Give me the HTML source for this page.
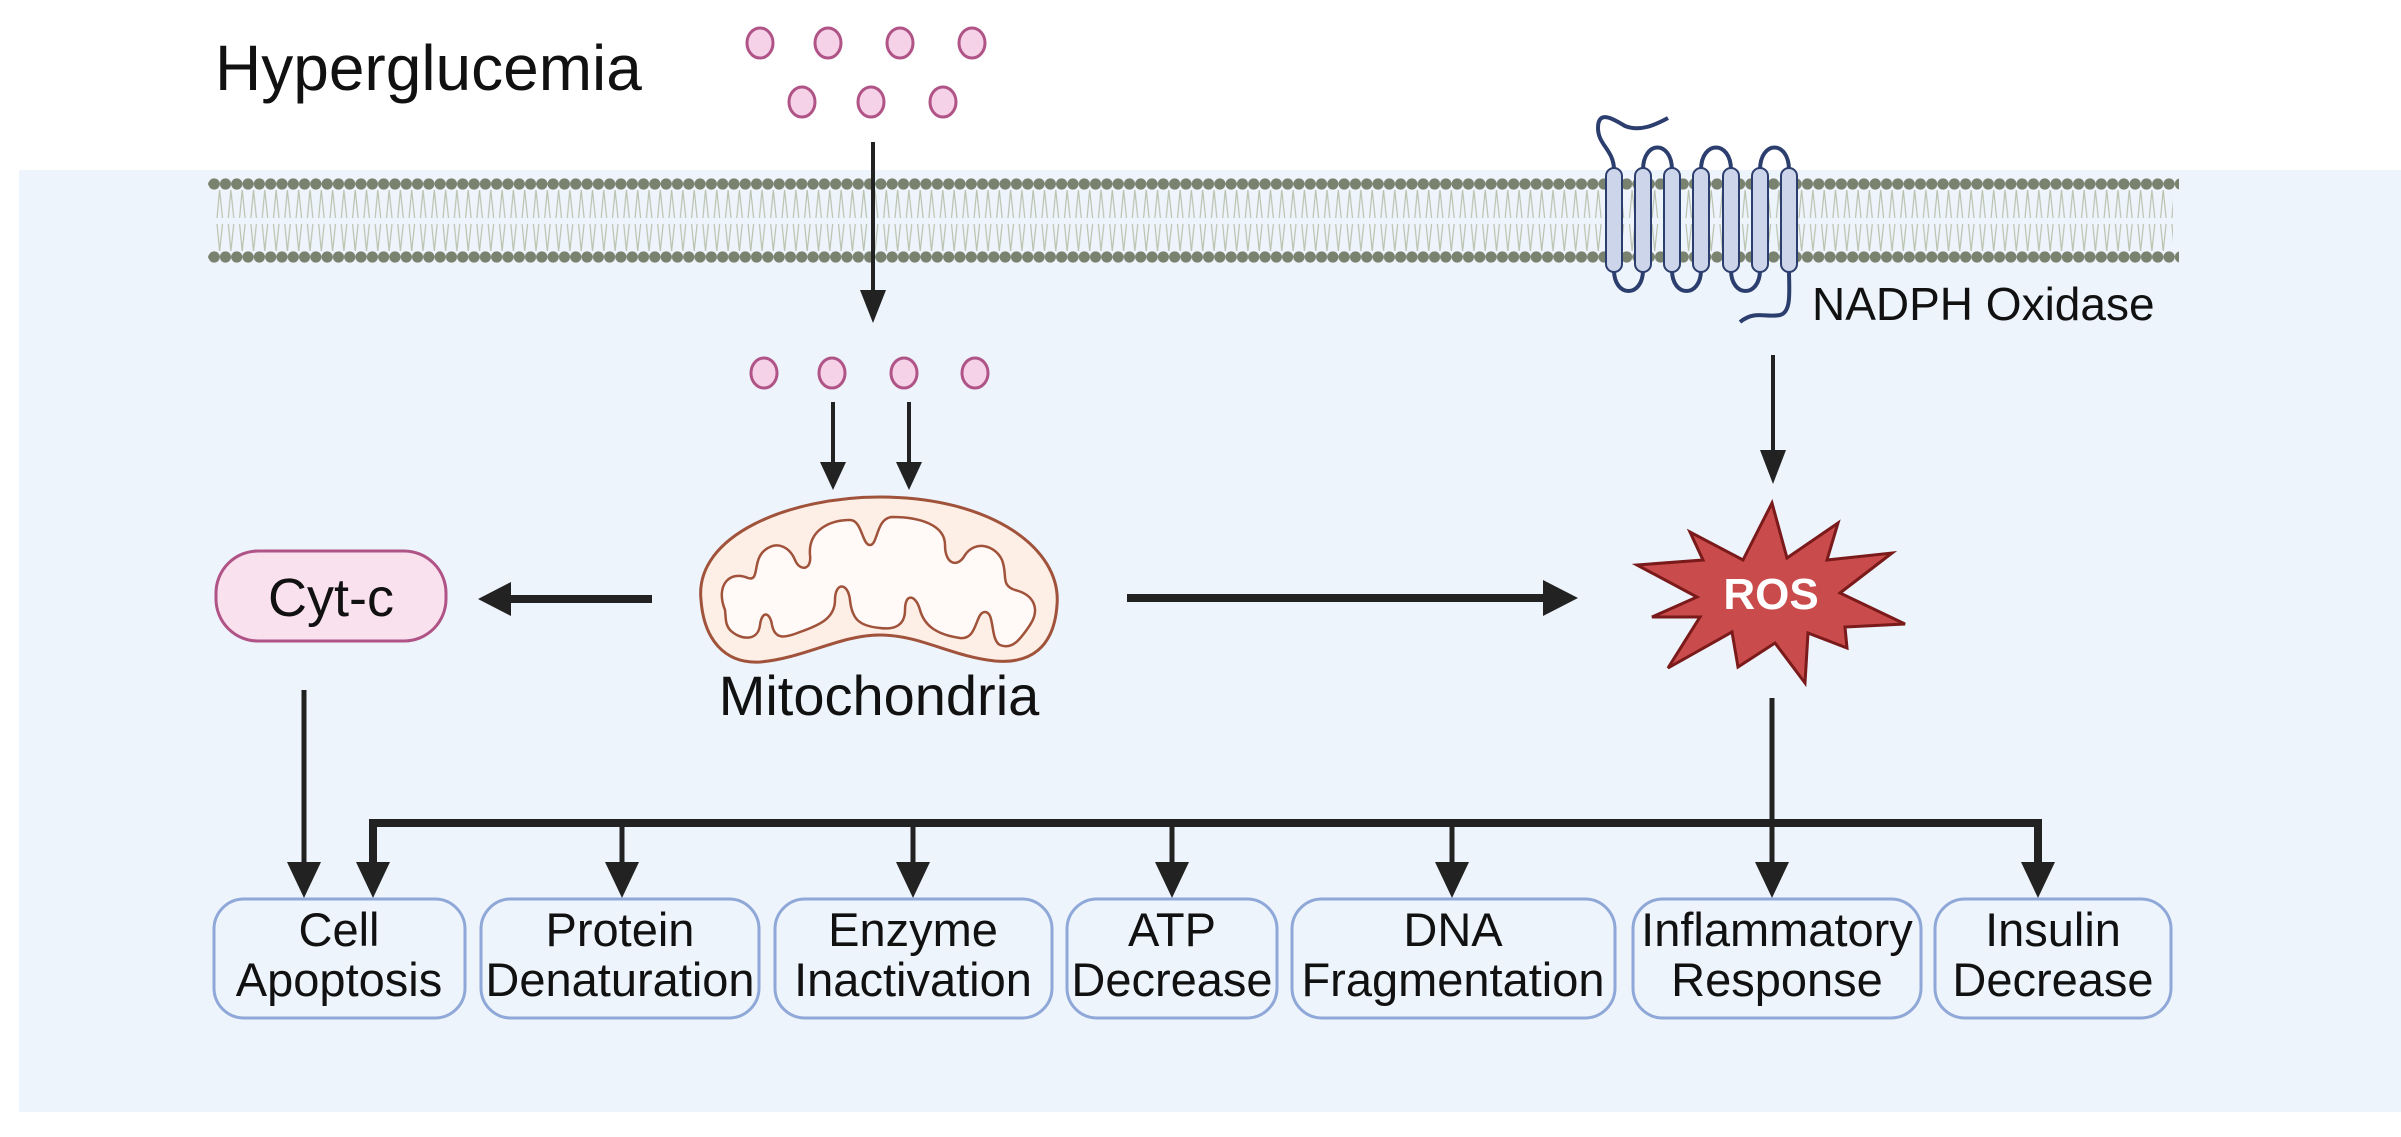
<!DOCTYPE html>
<html><head><meta charset="utf-8"><style>
html,body{margin:0;padding:0;background:#fff;}
svg{display:block;}
text{font-family:"Liberation Sans",Arial,sans-serif;}
</style></head><body>
<svg width="2401" height="1137" viewBox="0 0 2401 1137" xmlns="http://www.w3.org/2000/svg">
<defs>
<pattern id="tails" x="214" y="0" width="11.3" height="1137" patternUnits="userSpaceOnUse">
<path d="M5.6 190 L3 218 M5.6 190 L8.5 218 M3 224 L5.6 251 M8.5 224 L5.6 251" stroke="#b9c2ad" stroke-width="1.2" fill="none"/>
</pattern>
<pattern id="heads" x="208.5" y="0" width="11.3" height="1137" patternUnits="userSpaceOnUse">
<circle cx="5.65" cy="184" r="5.6" fill="#78826e"/>
<circle cx="5.65" cy="257" r="5.6" fill="#78826e"/>
</pattern>
</defs>
<rect x="19" y="170" width="2382" height="942" fill="#edf4fc"/>
<!-- membrane -->
<rect x="214" y="186" width="1959" height="68" fill="url(#tails)"/>
<rect x="208" y="176" width="1971" height="88" fill="url(#heads)"/>

<text x="215" y="90" font-size="64" fill="#111">Hyperglucemia</text>
<g fill="#f6d2e8" stroke="#b05386" stroke-width="3">
<ellipse cx="760" cy="43" rx="13" ry="15"/><ellipse cx="828" cy="43" rx="13" ry="15"/><ellipse cx="900" cy="43" rx="13" ry="15"/><ellipse cx="972" cy="43" rx="13" ry="15"/>
<ellipse cx="802" cy="102" rx="13" ry="15"/><ellipse cx="871" cy="102" rx="13" ry="15"/><ellipse cx="943" cy="102" rx="13" ry="15"/>
<ellipse cx="764" cy="373" rx="13" ry="15"/><ellipse cx="832" cy="373" rx="13" ry="15"/><ellipse cx="904" cy="373" rx="13" ry="15"/><ellipse cx="975" cy="373" rx="13" ry="15"/>
</g>

<!-- protein -->
<g fill="none" stroke="#2c3e6e" stroke-width="4">
<path d="M1614 170 C1614 150 1598 145 1598 128 C1598 110 1612 118 1625 126 C1640 132 1655 125 1668 118"/>
<path d="M1643 170 C1643 140 1672 140 1672 170"/>
<path d="M1701 170 C1701 140 1731 140 1731 170"/>
<path d="M1760 170 C1760 140 1789 140 1789 170"/>
<path d="M1614 270 C1614 298 1643 298 1643 270"/>
<path d="M1672 270 C1672 298 1701 298 1701 270"/>
<path d="M1731 270 C1731 298 1760 298 1760 270"/>
<path d="M1789 270 C1789 290 1792 312 1780 315 C1765 318 1755 310 1740 322"/>
</g>
<g fill="#cdd5ea" stroke="#2c3e6e" stroke-width="2">
<rect x="1606" y="168" width="16" height="104" rx="8"/><rect x="1635" y="168" width="16" height="104" rx="8"/><rect x="1664" y="168" width="16" height="104" rx="8"/><rect x="1693" y="168" width="16" height="104" rx="8"/><rect x="1723" y="168" width="16" height="104" rx="8"/><rect x="1752" y="168" width="16" height="104" rx="8"/><rect x="1781" y="168" width="16" height="104" rx="8"/>
</g>
<text x="1812" y="320" font-size="46" fill="#111">NADPH Oxidase</text>

<!-- arrows -->
<g stroke="#222" fill="none">
<line x1="873" y1="142" x2="873" y2="295" stroke-width="4"/>
<line x1="833" y1="402" x2="833" y2="465" stroke-width="4"/>
<line x1="909" y1="402" x2="909" y2="465" stroke-width="4"/>
<line x1="1773" y1="355" x2="1773" y2="455" stroke-width="4"/>
<line x1="652" y1="599" x2="505" y2="599" stroke-width="8"/>
<line x1="1127" y1="598" x2="1550" y2="598" stroke-width="8"/>
<line x1="304" y1="690" x2="304" y2="870" stroke-width="5"/>
<line x1="1772" y1="698" x2="1772" y2="870" stroke-width="5"/>
<polyline points="373,870 373,823 2038,823 2038,870" stroke-width="8"/>
<line x1="622" y1="823" x2="622" y2="870" stroke-width="5"/>
<line x1="913" y1="823" x2="913" y2="870" stroke-width="5"/>
<line x1="1172" y1="823" x2="1172" y2="870" stroke-width="5"/>
<line x1="1452" y1="823" x2="1452" y2="870" stroke-width="5"/>
</g>
<g fill="#222">
<polygon points="860,290 886,290 873,323"/>
<polygon points="820,462 846,462 833,490"/>
<polygon points="896,462 922,462 909,490"/>
<polygon points="1760,450 1786,450 1773,484"/>
<polygon points="511,582 511,616 478,599"/>
<polygon points="1543,580 1543,616 1578,598"/>
<polygon points="287,862 321,862 304,898"/>
<polygon points="356,862 390,862 373,898"/>
<polygon points="605,862 639,862 622,898"/>
<polygon points="896,862 930,862 913,898"/>
<polygon points="1155,862 1189,862 1172,898"/>
<polygon points="1435,862 1469,862 1452,898"/>
<polygon points="1755,862 1789,862 1772,898"/>
<polygon points="2021,862 2055,862 2038,898"/>
</g>

<!-- Cyt-c -->
<rect x="216" y="551" width="230" height="90" rx="42" fill="#f9e1ee" stroke="#b05386" stroke-width="3"/>
<text x="331" y="616" font-size="54" text-anchor="middle" fill="#111">Cyt-c</text>

<!-- mitochondria -->
<path d="M701 600 C694 535 790 497 880 497 C990 497 1062 548 1057 605 C1054 648 1030 664 995 661 C950 656 920 635 880 635 C840 635 805 658 760 662 C725 664 704 640 701 600 Z" fill="#fdeee6" stroke="#a0523a" stroke-width="3"/>
<path d="M725 610 C715 585 730 570 748 578 C760 582 752 560 765 550 C778 540 790 548 795 560 C800 572 812 570 810 555 C808 530 830 520 850 520 C862 520 862 545 870 545 C878 545 876 518 892 517 C920 517 945 525 945 545 C945 565 958 568 965 555 C975 540 995 545 1002 560 C1008 575 1000 585 1015 590 C1035 595 1040 610 1030 625 C1020 640 1012 650 1000 645 C990 640 995 612 985 612 C975 612 978 640 960 638 C940 635 925 628 920 610 C916 595 905 592 905 610 C905 625 895 630 880 628 C860 626 852 620 850 600 C848 582 835 582 835 600 C835 618 820 625 800 632 C785 638 775 640 772 625 C770 612 762 610 760 625 C758 642 740 640 730 630 C725 624 726 618 725 610 Z" fill="#fffaf8" stroke="#a0523a" stroke-width="2.5"/>
<text x="879" y="715" font-size="56" text-anchor="middle" fill="#111">Mitochondria</text>

<!-- ROS -->
<polygon points="1772,503 1787,558 1838,523 1827,560 1892,553 1840,593 1905,624 1845,627 1847,648 1808,633 1805,683 1775,643 1738,667 1732,632 1668,668 1700,617 1652,617 1697,597 1637,565 1703,560 1690,532 1743,560" fill="#c94b4b" stroke="#7a1a1a" stroke-width="3" stroke-linejoin="miter"/>
<text x="1771" y="609" font-size="44" font-weight="bold" text-anchor="middle" fill="#fff">ROS</text>

<!-- boxes -->
<g fill="#edf4fc" stroke="#8fa8d8" stroke-width="3">
<rect x="214" y="899" width="251" height="119" rx="30"/>
<rect x="481" y="899" width="278" height="119" rx="30"/>
<rect x="775" y="899" width="277" height="119" rx="30"/>
<rect x="1067" y="899" width="210" height="119" rx="30"/>
<rect x="1292" y="899" width="323" height="119" rx="30"/>
<rect x="1633" y="899" width="288" height="119" rx="30"/>
<rect x="1935" y="899" width="236" height="119" rx="30"/>
</g>
<g font-size="47" text-anchor="middle" fill="#111">
<text x="339" y="946">Cell</text><text x="339" y="996">Apoptosis</text>
<text x="620" y="946">Protein</text><text x="620" y="996">Denaturation</text>
<text x="913" y="946">Enzyme</text><text x="913" y="996">Inactivation</text>
<text x="1172" y="946">ATP</text><text x="1172" y="996">Decrease</text>
<text x="1453" y="946">DNA</text><text x="1453" y="996">Fragmentation</text>
<text x="1777" y="946">Inflammatory</text><text x="1777" y="996">Response</text>
<text x="2053" y="946">Insulin</text><text x="2053" y="996">Decrease</text>
</g>
</svg>
</body></html>
